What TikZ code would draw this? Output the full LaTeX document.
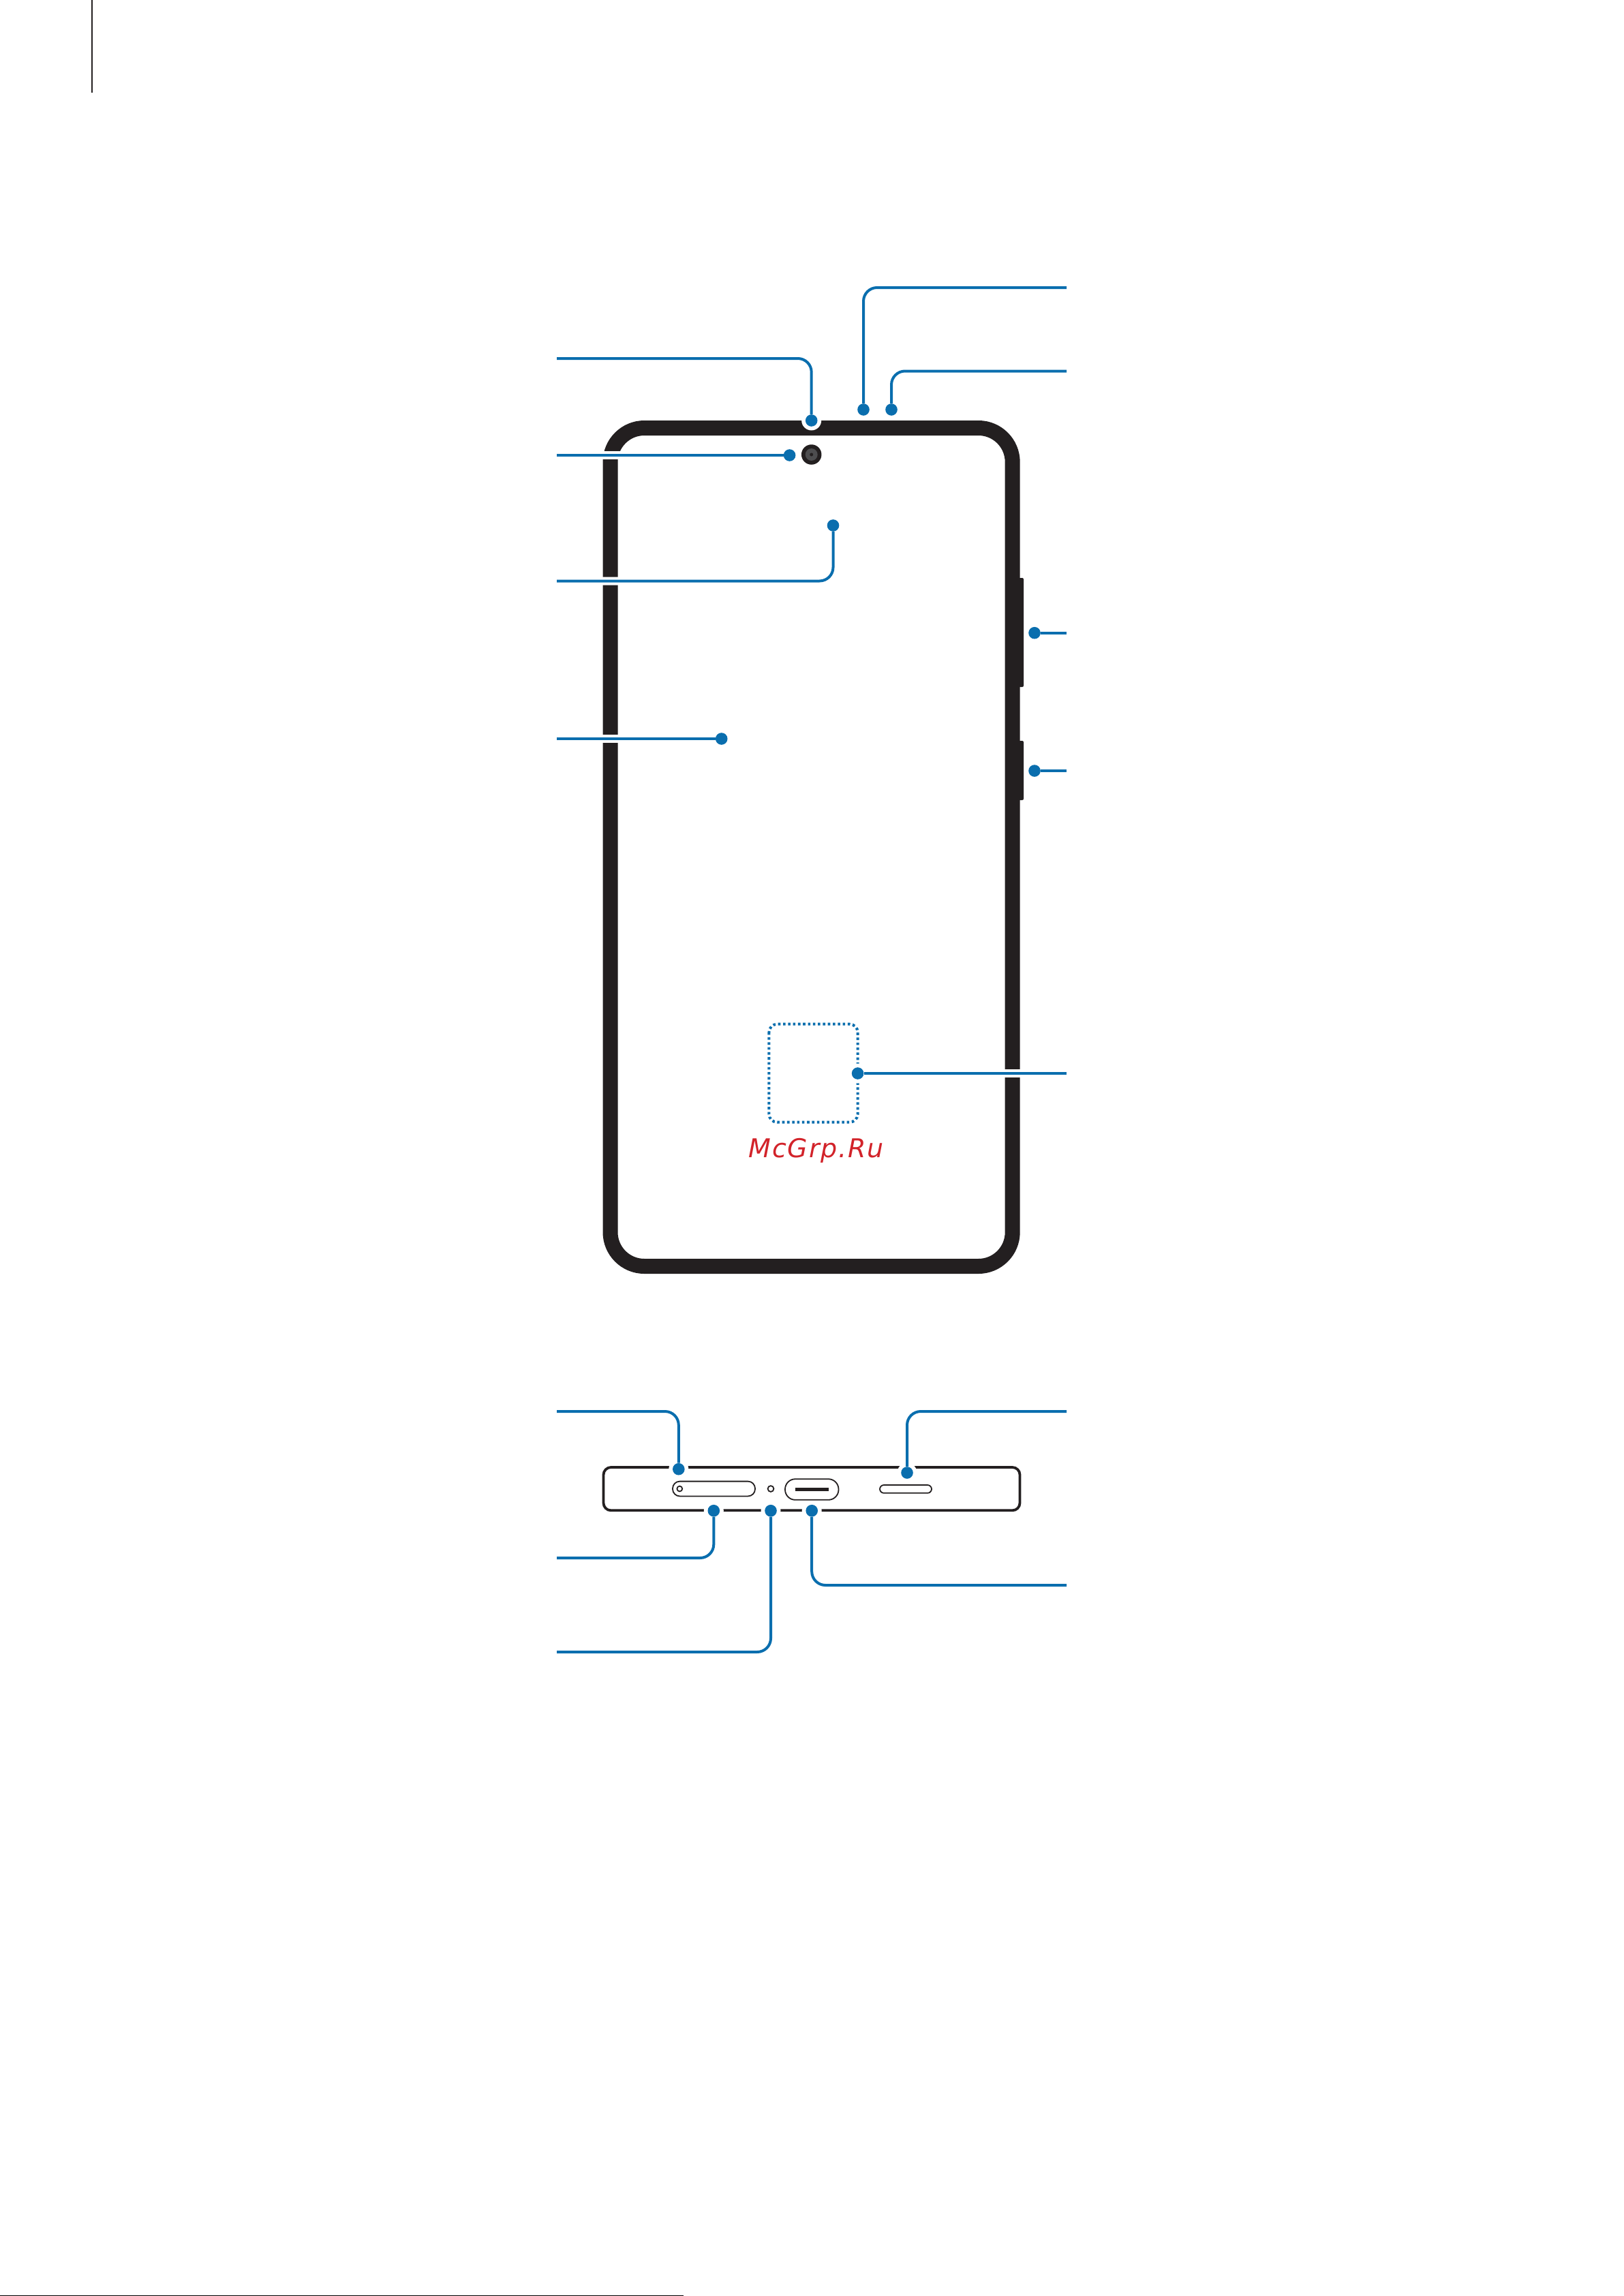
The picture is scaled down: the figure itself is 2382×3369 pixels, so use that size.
\documentclass[tikz,border=0pt]{standalone}
\usepackage{fontspec}
\newfontfamily\markfont[LetterSpace=4.5]{DejaVu Sans}
\definecolor{leaderblue}{HTML}{0A6EAE}
\definecolor{bodyblack}{HTML}{231F20}
\definecolor{lensgrey}{HTML}{4D4D4F}
\definecolor{markred}{HTML}{D2232A}
\tikzset{spot/.style={circle,fill=leaderblue,inner sep=0pt,minimum size=17.6pt}}
\tikzset{spotgap/.style={circle,fill=white,inner sep=0pt,minimum size=29pt}}
\tikzset{leader/.style={draw=leaderblue,line width=4pt,rounded corners=20pt}}
\tikzset{leadercut/.style={leader,preaction={draw=white,line width=12pt}}}
\tikzset{slot/.style={draw=bodyblack,line width=1.8pt,fill=white}}
\begin{document}
\begin{tikzpicture}[x=1pt,y=-1pt]
  \useasboundingbox (0,0) rectangle (2382,3369);
  \draw[bodyblack,line width=2pt] (135,0) -- (135,136);
  \draw[black,line width=1.5pt] (0,3368.3) -- (1003,3368.3);
  % front view
  \draw[bodyblack,line width=22pt,rounded corners=50pt] (895.5,628) rectangle (1485.7,1858);
  \fill[bodyblack,rounded corners=2pt] (1490,848) -- (1502,848) -- (1502,1008) -- (1490,1008) -- cycle;
  \fill[bodyblack,rounded corners=2pt] (1490,1087) -- (1502,1087) -- (1502,1174) -- (1490,1174) -- cycle;
  \node[circle,fill=bodyblack,inner sep=0pt,minimum size=29.5pt] (lens) at (1190.7,667) {};
  \node[circle,fill=lensgrey,inner sep=0pt,minimum size=18pt] (lensring) at (lens) {};
  \node[circle,fill=bodyblack,inner sep=0pt,minimum size=5pt] (lenscore) at (lens) {};
  \draw[leaderblue,line width=4pt,dash pattern=on 3.6pt off 3.7pt,rounded corners=12pt] (1128.4,1502.7) rectangle (1258.6,1646.7);
  \node[text=markred,font=\fontsize{38}{40}\markfont\itshape,inner sep=0pt,anchor=base] (mark) at (1197.5,1698) {McGrp.Ru};
  \node[spotgap] (eargap) at (1190.7,617) {};
  \node[spot] (ear) at (eargap) {};
  \node[spot] (mica) at (1267,601) {};
  \node[spot] (micb) at (1308,601) {};
  \node[spot] (cam) at (1158.6,668) {};
  \node[spot] (sensor) at (1222.5,771) {};
  \node[spot] (screen) at (1058.7,1084) {};
  \node[spot] (volume) at (1518,928.7) {};
  \node[spot] (power) at (1518,1131) {};
  \node[spotgap] (printgap) at (1258.6,1575) {};
  \node[spot] (print) at (printgap) {};
  \coordinate (earend) at (817,526);
  \coordinate (micaend) at (1565,422);
  \coordinate (micbend) at (1565,544.5);
  \coordinate (camend) at (817,668);
  \coordinate (sensorend) at (817,852.5);
  \coordinate (screenend) at (817,1084);
  \coordinate (volumeend) at (1565,928.7);
  \coordinate (powerend) at (1565,1131);
  \coordinate (printend) at (1565,1575);
  \draw[leader] (ear) |- (earend);
  \draw[leader] (mica) |- (micaend);
  \draw[leader] (micb) |- (micbend);
  \draw[leadercut] (cam) -- (camend);
  \draw[leadercut] (sensor) |- (sensorend);
  \draw[leadercut] (screen) -- (screenend);
  \draw[leader] (volume) -- (volumeend);
  \draw[leader] (power) -- (powerend);
  \draw[leadercut] (print) -- (printend);
  % bottom view
  \draw[bodyblack,line width=3.8pt,rounded corners=11pt] (885.5,2153) rectangle (1496.5,2216.3);
  \draw[slot,rounded corners=10.5pt] (987,2173.6) rectangle (1108,2195.4);
  \node[slot,circle,inner sep=0pt,minimum size=7.8pt] (pinhole) at (997.3,2184.5) {};
  \node[slot,circle,inner sep=0pt,minimum size=8.8pt] (michole) at (1131,2184.5) {};
  \draw[slot,rounded corners=15pt] (1152,2170.2) rectangle (1230.5,2200.8);
  \fill[bodyblack] (1167.2,2183) rectangle (1216.2,2187.7);
  \draw[slot,rounded corners=6pt] (1291,2179) rectangle (1367,2190.8);
  \node[spotgap] (traygap) at (995.8,2155.7) {};
  \node[spot] (tray) at (traygap) {};
  \node[spotgap] (topgap) at (1331,2161) {};
  \node[spot] (top) at (topgap) {};
  \node[spotgap] (antgap) at (1047.3,2216.7) {};
  \node[spot] (ant) at (antgap) {};
  \node[spotgap] (micgap) at (1131,2216.7) {};
  \node[spot] (mic) at (micgap) {};
  \node[spotgap] (usbgap) at (1191.2,2216.7) {};
  \node[spot] (usb) at (usbgap) {};
  \coordinate (trayend) at (817,2071);
  \coordinate (topend) at (1565,2071);
  \coordinate (antend) at (817,2286);
  \coordinate (micend) at (817,2424);
  \coordinate (usbend) at (1565,2326);
  \draw[leader] (tray) |- (trayend);
  \draw[leader] (top) |- (topend);
  \draw[leader] (ant) |- (antend);
  \draw[leader] (mic) |- (micend);
  \draw[leader] (usb) |- (usbend);
\end{tikzpicture}
\end{document}
